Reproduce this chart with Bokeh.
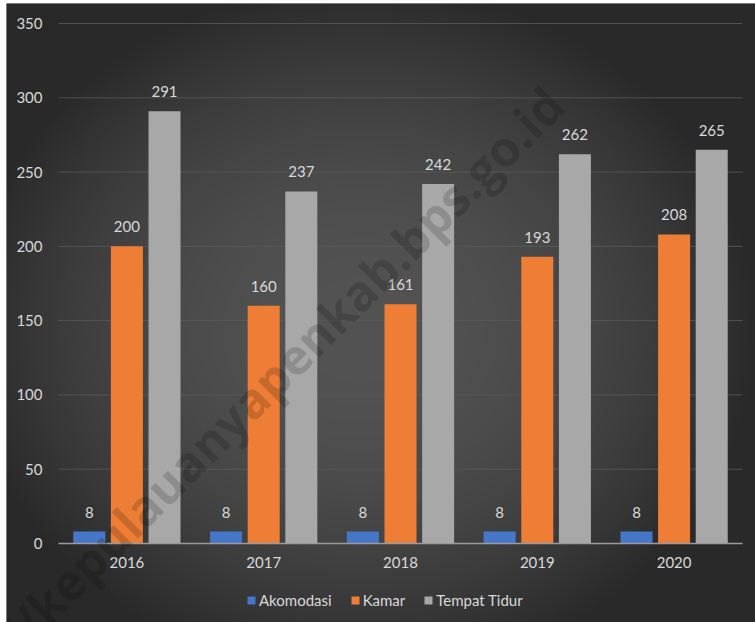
import numpy as np
from bokeh.plotting import figure
from bokeh.models import (ColumnDataSource, Range1d, FixedTicker, Legend,
                          LegendItem, LabelSet, Label)
from bokeh.core.properties import value
from bokeh.transform import dodge
from bokeh.embed import file_html
from bokeh.resources import INLINE

years = ["2016", "2017", "2018", "2019", "2020"]
akomodasi = [8, 8, 8, 8, 8]
kamar = [200, 160, 161, 193, 208]
tempat_tidur = [291, 237, 242, 262, 265]
y_ticks = [0, 50, 100, 150, 200, 250, 300, 350]
series_names = ["Akomodasi", "Kamar", "Tempat Tidur"]
colors = ["#4676c8", "#ee7e36", "#a8a8a8"]

n = len(years)
xc = [i + 0.5 for i in range(n)]  # category centres on a numeric scale

src = ColumnDataSource(dict(xc=xc, akomodasi=akomodasi, kamar=kamar,
                            tempat_tidur=tempat_tidur,
                            l_ak=[str(v) for v in akomodasi],
                            l_km=[str(v) for v in kamar],
                            l_tt=[str(v) for v in tempat_tidur]))

EDGE = "#2a2a2a"
FONT = "Lato"
TXT = "#d9d9d9"
FS = "15px"

# whole figure is the frame; axes are pinned with fixed_location
X0, X1 = -52 / 136.8, n + 13 / 136.8
Y0, Y1 = -79 / 1.4856, 350 + 20 / 1.4856
p = figure(width=749, height=619, output_backend="svg", toolbar_location=None,
           x_range=Range1d(X0, X1), y_range=Range1d(Y0, Y1),
           min_border_left=0, min_border_right=0, min_border_top=0, min_border_bottom=0)
p.margin = (3, 0, 0, 6)
p.background_fill_color = EDGE
p.border_fill_color = EDGE
p.outline_line_color = None

# radial background shading (decorative)
W, H = 375, 310
xx, yy = np.meshgrid(np.linspace(0, 749, W), np.linspace(0, 619, H))
cx, cy = 354, 292  # pixels from left / from bottom
r2 = ((xx - cx) / 400.0) ** 2 + ((yy - cy) / 350.0) ** 2
t = np.clip(1 - r2, 0, 1)
g = (0x29 + (0x53 - 0x29) * t).astype(np.uint32)
img = ((255 << 24) | (g << 16) | (g << 8) | g).astype(np.uint32)
p.image_rgba(image=[img], x=X0, y=Y0, dw=X1 - X0, dh=Y1 - Y0, level="image")

# horizontal grid lines over the category span only
p.segment(x0=0, x1=n, y0=y_ticks[1:], y1=y_ticks[1:], line_color="#5a5a5a",
          line_alpha=0.8, line_width=1, level="underlay")

offsets = [-0.275, 0.0, 0.275]
fields = ["akomodasi", "kamar", "tempat_tidur"]
labels = ["l_ak", "l_km", "l_tt"]
renderers = []
for off, f, lab, c in zip(offsets, fields, labels, colors):
    rr = p.vbar(x=dodge("xc", off), top=f, width=0.234, bottom=0,
                source=src, fill_color=c, line_color=None)
    renderers.append(rr)
    ls = LabelSet(x=dodge("xc", off), y=f, text=lab, source=src,
                  text_align="center", text_baseline="bottom", y_offset=14,
                  text_font=value(FONT), text_font_size=value(FS), text_color=value(TXT))
    p.add_layout(ls)

# axes
p.yaxis.fixed_location = 0
p.yaxis.bounds = (0, 350)
p.yaxis.ticker = FixedTicker(ticks=y_ticks)
p.yaxis.axis_line_color = None
p.yaxis.major_tick_line_color = None
p.yaxis.minor_tick_line_color = None
p.yaxis.major_label_standoff = 10
p.yaxis.major_label_text_font = FONT
p.yaxis.major_label_text_font_size = FS
p.yaxis.major_label_text_color = TXT

p.xaxis.fixed_location = 0
p.xaxis.bounds = (0, n)
p.xaxis.ticker = FixedTicker(ticks=xc)
p.xaxis.major_label_overrides = {x: y for x, y in zip(xc, years)}
p.xaxis.axis_line_color = "#9a9a9a"
p.xaxis.axis_line_width = 1.5
p.xaxis.major_tick_line_color = None
p.xaxis.minor_tick_line_color = None
p.xaxis.major_label_standoff = 8
p.xaxis.major_label_text_font = FONT
p.xaxis.major_label_text_font_size = FS
p.xaxis.major_label_text_color = TXT

p.xgrid.grid_line_color = None
p.ygrid.grid_line_color = None

legend = Legend(items=[LegendItem(label=nm, renderers=[rr]) for nm, rr in zip(series_names, renderers)],
                orientation="horizontal", location=(236, 9))
legend.background_fill_alpha = 0
legend.border_line_alpha = 0
legend.label_text_font = FONT
legend.label_text_font_size = FS
legend.label_text_color = TXT
legend.glyph_width = 10
legend.glyph_height = 10
legend.label_standoff = 3
legend.spacing = 18
legend.padding = 4
legend.margin = 0
p.add_layout(legend, "center")

wm = Label(x=1.25, y=83, text="https://kepulauanyapenkab.bps.go.id", angle=0.785,
           text_align="center", text_baseline="middle", text_font="Open Sans",
           text_font_style="bold", text_font_size="49px", text_color="black", text_alpha=0.16)
p.add_layout(wm)

open("out.html", "w").write(file_html(p, INLINE))
